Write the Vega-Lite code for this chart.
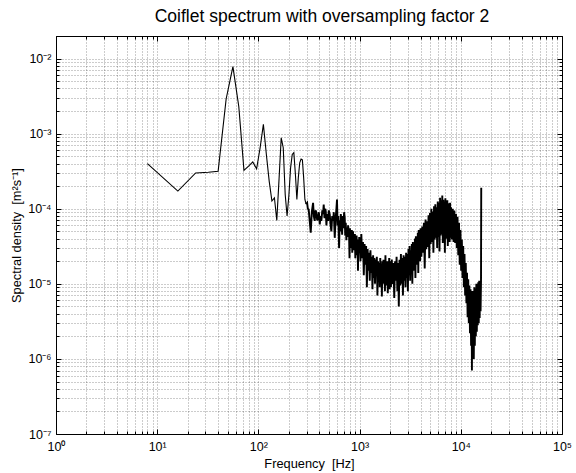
{
 "$schema": "https://vega.github.io/schema/vega-lite/v6.json",
 "width": 506,
 "height": 398,
 "autosize": {"type": "none"},
 "padding": {"left": 56, "top": 36, "right": 14, "bottom": 39},
 "background": "#ffffff",
 "title": {"text": "Coiflet spectrum with oversampling factor 2", "fontSize": 17.5, "fontWeight": "normal", "font": "Liberation Sans", "color": "#000", "anchor": "middle", "frame": "group", "dx": 13, "offset": -9, "baseline": "alphabetic"},
 "config": {
  "view": {"stroke": "#000", "strokeWidth": 1},
  "font": "Liberation Sans",
  "axis": {"labelFont": "Liberation Sans", "titleFont": "Liberation Sans", "labelFontSize": 12.5, "titleFontSize": 12.8, "titleFontWeight": "normal", "labelColor": "#000", "titleColor": "#000", "tickColor": "#000", "domain": false, "labelOverlap": false, "labelFlush": false}
 },
 "data": {"values": [
  {"f":8,"p":4.0e-4},{"f":16,"p":1.72e-4},{"f":24,"p":3.0e-4},{"f":32,"p":3.07e-4},{"f":40,"p":3.15e-4},{"f":48,"p":2.9e-3},{"f":56,"p":7.8e-3},{"f":64,"p":2.3e-3},{"f":72,"p":3.25e-4},{"f":80,"p":3.7e-4},{"f":88,"p":4.2e-4},{"f":96,"p":3.4e-4},{"f":104,"p":6.5e-4},{"f":112,"p":1.33e-3},{"f":120,"p":5.2e-4},{"f":128,"p":2.3e-4},{"f":136,"p":1.27e-4},{"f":144,"p":1.4e-4},{"f":152,"p":7.0e-5},{"f":160,"p":2.5e-4},{"f":168,"p":8.8e-4},{"f":176,"p":6.5e-4},{"f":184,"p":1.55e-4},{"f":192,"p":8e-5},{"f":200,"p":1.5e-4},{"f":208,"p":3.5e-4},{"f":216,"p":5.3e-4},{"f":224,"p":5.6e-4},{"f":232,"p":2.9e-4},{"f":240,"p":1.33e-4},{"f":248,"p":2.6e-4},{"f":256,"p":4.1e-4},{"f":264,"p":4.6e-4},{"f":272,"p":4.5e-4},{"f":280,"p":2.6e-4},{"f":288,"p":1.33e-4},{"f":296,"p":1.15e-4},
  {"f":303,"p":1.2e-4},{"f":308,"p":1.0e-4},{"f":314,"p":9.8e-5},{"f":321,"p":7e-5},{"f":329,"p":4.8e-5},{"f":337,"p":9e-5},{"f":347,"p":1.2e-4},{"f":353,"p":8e-5},{"f":360,"p":6.9e-5},{"f":367,"p":9.5e-5},{"f":374,"p":8.9e-5},{"f":381,"p":7e-5},{"f":389,"p":7.6e-5},{"f":396,"p":9e-5},{"f":404,"p":6.2e-5},{"f":411,"p":8e-5},{"f":419,"p":6.9e-5},{"f":428,"p":9.5e-5},{"f":435,"p":8.5e-5},{"f":442,"p":1.14e-4},{"f":450,"p":7.5e-5},{"f":457,"p":1.0e-4},{"f":463,"p":9.3e-5},{"f":470,"p":6e-5},{"f":478,"p":8.5e-5},{"f":488,"p":6.9e-5},{"f":496,"p":9.5e-5},{"f":507,"p":8.4e-5},{"f":516,"p":6.2e-5},{"f":526,"p":5.0e-5},{"f":536,"p":8e-5},{"f":547,"p":6.9e-5},{"f":556,"p":9e-5},{"f":568,"p":4.1e-5},{"f":580,"p":7.5e-5},{"f":590,"p":1.0e-4},{"f":598,"p":1.33e-4},{"f":606,"p":6e-5},{"f":615,"p":8e-5},{"f":627,"p":3.0e-5},{"f":636,"p":7e-5},{"f":644,"p":5e-5},{"f":652,"p":8.5e-5},{"f":661,"p":6.9e-5},{"f":672,"p":4.5e-5},{"f":682,"p":8e-5},{"f":692,"p":5.5e-5},{"f":703,"p":9e-5},{"f":713,"p":7.6e-5},{"f":721,"p":4.4e-5},{"f":730,"p":6.5e-5},{"f":740,"p":3.8e-5},{"f":752,"p":5.6e-5},{"f":760,"p":4.2e-5},{"f":770,"p":6e-5},{"f":787,"p":4.5e-5},{"f":795,"p":2.2e-5},{"f":803,"p":5.5e-5},{"f":812,"p":3.5e-5},{"f":821,"p":4.8e-5},{"f":830,"p":3.0e-5},{"f":838,"p":5.2e-5},{"f":846,"p":2.6e-5},{"f":853,"p":4.8e-5},{"f":861,"p":5.0e-5},{"f":870,"p":2.8e-5},{"f":879,"p":4.5e-5},{"f":889,"p":3.2e-5},{"f":898,"p":4.6e-5},{"f":907,"p":2.2e-5},{"f":915,"p":4.1e-5},{"f":925,"p":3.4e-5},{"f":934,"p":4.4e-5},{"f":944,"p":2.4e-5},{"f":954,"p":3.8e-5},{"f":964,"p":1.5e-5},{"f":972,"p":3.9e-5},{"f":982,"p":2.6e-5},{"f":991,"p":4.2e-5},{"f":1002,"p":3.7e-5},
  {"f":1020,"p":2.0e-5},{"f":1040,"p":4.6e-5},{"f":1060,"p":2.2e-5},{"f":1080,"p":3.6e-5},{"f":1100,"p":1.3e-5},{"f":1120,"p":3.4e-5},{"f":1140,"p":1.8e-5},{"f":1160,"p":3.2e-5},{"f":1180,"p":9e-6},{"f":1200,"p":2.9e-5},{"f":1220,"p":1.5e-5},{"f":1240,"p":2.6e-5},{"f":1260,"p":1.1e-5},{"f":1280,"p":2.8e-5},{"f":1300,"p":1.4e-5},{"f":1320,"p":2.3e-5},{"f":1340,"p":8.5e-6},{"f":1360,"p":2.4e-5},{"f":1380,"p":1.2e-5},{"f":1400,"p":2.2e-5},{"f":1420,"p":1.0e-5},{"f":1440,"p":2.1e-5},{"f":1460,"p":1.3e-5},{"f":1480,"p":2.3e-5},{"f":1500,"p":7e-6},{"f":1520,"p":2.0e-5},{"f":1540,"p":1.1e-5},{"f":1560,"p":1.9e-5},{"f":1580,"p":9e-6},{"f":1600,"p":2.2e-5},{"f":1620,"p":1.2e-5},{"f":1640,"p":1.8e-5},{"f":1660,"p":6.8e-6},{"f":1680,"p":2.0e-5},{"f":1700,"p":1.0e-5},{"f":1720,"p":2.1e-5},{"f":1740,"p":1.1e-5},{"f":1760,"p":1.9e-5},{"f":1780,"p":8e-6},{"f":1800,"p":2.4e-5},{"f":1820,"p":1.2e-5},{"f":1840,"p":1.8e-5},{"f":1860,"p":9.5e-6},{"f":1880,"p":2.0e-5},{"f":1900,"p":7.5e-6},{"f":1920,"p":1.9e-5},{"f":1940,"p":1.1e-5},{"f":1960,"p":2.2e-5},{"f":1980,"p":8.5e-6},{"f":2000,"p":2.0e-5},
  {"f":2040,"p":9e-6},{"f":2080,"p":2.1e-5},{"f":2120,"p":1.0e-5},{"f":2160,"p":1.9e-5},{"f":2200,"p":6.5e-6},{"f":2240,"p":2.0e-5},{"f":2280,"p":1.1e-5},{"f":2320,"p":2.3e-5},{"f":2360,"p":8e-6},{"f":2400,"p":1.9e-5},{"f":2440,"p":5e-6},{"f":2480,"p":2.1e-5},{"f":2520,"p":9.5e-6},{"f":2560,"p":2.5e-5},{"f":2600,"p":1.0e-5},{"f":2640,"p":2.2e-5},{"f":2680,"p":7e-6},{"f":2720,"p":2.4e-5},{"f":2760,"p":1.1e-5},{"f":2800,"p":2.3e-5},{"f":2840,"p":9e-6},{"f":2880,"p":2.6e-5},{"f":2920,"p":1.2e-5},{"f":2960,"p":2.5e-5},{"f":3000,"p":8e-6},{"f":3040,"p":2.9e-5},{"f":3080,"p":1.3e-5},{"f":3120,"p":3.2e-5},{"f":3160,"p":1.1e-5},{"f":3200,"p":2.8e-5},{"f":3240,"p":1.4e-5},{"f":3280,"p":3.4e-5},{"f":3320,"p":1.0e-5},{"f":3360,"p":3.6e-5},{"f":3400,"p":1.5e-5},{"f":3440,"p":3.3e-5},{"f":3480,"p":1.7e-5},{"f":3520,"p":4.0e-5},{"f":3560,"p":1.2e-5},{"f":3600,"p":4.3e-5},{"f":3640,"p":1.8e-5},{"f":3680,"p":4.1e-5},{"f":3720,"p":1.9e-5},{"f":3760,"p":4.8e-5},{"f":3800,"p":1.4e-5},{"f":3840,"p":5.2e-5},{"f":3880,"p":2.1e-5},{"f":3920,"p":4.6e-5},{"f":3960,"p":2.0e-5},{"f":4000,"p":5.5e-5},
  {"f":4080,"p":2.3e-5},{"f":4160,"p":5.8e-5},{"f":4240,"p":2.6e-5},{"f":4320,"p":6.5e-5},{"f":4400,"p":1.6e-5},{"f":4480,"p":7.2e-5},{"f":4560,"p":2.9e-5},{"f":4640,"p":6.8e-5},{"f":4720,"p":3.1e-5},{"f":4800,"p":8.2e-5},{"f":4880,"p":2.2e-5},{"f":4960,"p":8.8e-5},{"f":5040,"p":3.4e-5},{"f":5120,"p":1.0e-4},{"f":5200,"p":3.6e-5},{"f":5280,"p":9.2e-5},{"f":5360,"p":2.6e-5},{"f":5440,"p":1.08e-4},{"f":5520,"p":3.9e-5},{"f":5600,"p":1.15e-4},{"f":5680,"p":4.1e-5},{"f":5760,"p":1.05e-4},{"f":5840,"p":3.0e-5},{"f":5920,"p":1.25e-4},{"f":6000,"p":4.2e-5},{"f":6080,"p":1.2e-4},{"f":6160,"p":2.7e-5},{"f":6240,"p":1.4e-4},{"f":6320,"p":4.4e-5},{"f":6400,"p":1.3e-4},{"f":6480,"p":4.6e-5},{"f":6560,"p":1.5e-4},{"f":6640,"p":3.5e-5},{"f":6720,"p":1.32e-4},{"f":6800,"p":4.5e-5},{"f":6880,"p":1.25e-4},{"f":6960,"p":2.6e-5},{"f":7040,"p":1.38e-4},{"f":7120,"p":4.4e-5},{"f":7200,"p":1.22e-4},{"f":7280,"p":4.0e-5},{"f":7360,"p":1.3e-4},{"f":7440,"p":3.2e-5},{"f":7520,"p":1.18e-4},{"f":7600,"p":4.3e-5},{"f":7680,"p":1.12e-4},{"f":7760,"p":3.6e-5},{"f":7840,"p":1.2e-4},{"f":7920,"p":4.1e-5},{"f":8000,"p":1.05e-4},
  {"f":8160,"p":3.9e-5},{"f":8320,"p":1.0e-4},{"f":8480,"p":3.6e-5},{"f":8640,"p":9.5e-5},{"f":8800,"p":3.5e-5},{"f":8960,"p":8.5e-5},{"f":9120,"p":3.0e-5},{"f":9280,"p":7.8e-5},{"f":9440,"p":2.4e-5},{"f":9600,"p":6.5e-5},{"f":9760,"p":1.8e-5},{"f":9920,"p":5.2e-5},{"f":10080,"p":1.5e-5},{"f":10240,"p":3.9e-5},{"f":10400,"p":1.2e-5},{"f":10560,"p":3.2e-5},{"f":10720,"p":9e-6},{"f":10880,"p":2.5e-5},{"f":11040,"p":7e-6},{"f":11200,"p":1.9e-5},{"f":11360,"p":5.5e-6},{"f":11520,"p":1.4e-5},{"f":11680,"p":3.6e-6},{"f":11840,"p":1.15e-5},{"f":12000,"p":3e-6},{"f":12160,"p":9.5e-6},{"f":12320,"p":2.2e-6},{"f":12480,"p":8.5e-6},{"f":12640,"p":1.5e-6},{"f":12800,"p":8e-6},{"f":12880,"p":7e-7},{"f":12960,"p":7.5e-6},{"f":13120,"p":1.2e-6},{"f":13280,"p":8e-6},{"f":13440,"p":1.0e-6},{"f":13600,"p":9e-6},{"f":13760,"p":1.5e-6},{"f":13920,"p":8.5e-6},{"f":14080,"p":2.0e-6},{"f":14240,"p":1.0e-5},{"f":14400,"p":2.3e-6},{"f":14560,"p":9.5e-6},{"f":14720,"p":2.8e-6},{"f":14880,"p":1.05e-5},{"f":15040,"p":3.0e-6},{"f":15200,"p":1.1e-5},{"f":15360,"p":3.5e-6},{"f":15520,"p":1.0e-5},{"f":15680,"p":4.3e-6},{"f":15840,"p":1.1e-5},{"f":15920,"p":1.9e-4}
 ]},
 "layer": [
  {
   "transform": [{"filter": "datum.f <= 300"}],
   "mark": {"type": "line", "color": "#000", "strokeWidth": 1.1, "clip": true},
   "encoding": {
    "x": {"field": "f", "type": "quantitative", "scale": {"type": "log", "domain": [1, 100000], "nice": false},
     "axis": {"orient": "bottom", "title": "Frequency\u00a0 [Hz]", "titlePadding": 3,
      "values": [1,2,3,4,5,6,7,8,9,10,20,30,40,50,60,70,80,90,100,200,300,400,500,600,700,800,900,1000,2000,3000,4000,5000,6000,7000,8000,9000,10000,20000,30000,40000,50000,60000,70000,80000,90000,100000],
      "labelExpr": "abs(log(datum.value)/LN10 - round(log(datum.value)/LN10)) < 0.001 ? '10' + substring('⁰¹²³⁴⁵', round(log(datum.value)/LN10), round(log(datum.value)/LN10) + 1) : ''",
      "grid": true, "gridColor": "#000", "gridDash": [1, 2], "gridOpacity": 0.5, "gridWidth": 0.8,
      "tickSize": {"condition": {"test": "abs(log(datum.value)/LN10 - round(log(datum.value)/LN10)) < 0.001", "value": -5}, "value": -3},
      "labelPadding": 11}},
    "y": {"field": "p", "type": "quantitative", "scale": {"type": "log", "domain": [1e-7, 0.02], "nice": false},
     "axis": {"orient": "left", "title": "Spectral density\u00a0 [m²s⁻¹]", "titlePadding": 4,
      "values": [1e-7,2e-7,3e-7,4e-7,5e-7,6e-7,7e-7,8e-7,9e-7,1e-6,2e-6,3e-6,4e-6,5e-6,6e-6,7e-6,8e-6,9e-6,1e-5,2e-5,3e-5,4e-5,5e-5,6e-5,7e-5,8e-5,9e-5,1e-4,2e-4,3e-4,4e-4,5e-4,6e-4,7e-4,8e-4,9e-4,1e-3,2e-3,3e-3,4e-3,5e-3,6e-3,7e-3,8e-3,9e-3,1e-2,2e-2],
      "labelExpr": "abs(log(datum.value)/LN10 - round(log(datum.value)/LN10)) < 0.001 ? '10⁻' + substring('⁰¹²³⁴⁵⁶⁷', -round(log(datum.value)/LN10), -round(log(datum.value)/LN10) + 1) : ''",
      "grid": true, "gridColor": "#000", "gridDash": [1, 2], "gridOpacity": 0.5, "gridWidth": 0.8,
      "tickSize": {"condition": {"test": "abs(log(datum.value)/LN10 - round(log(datum.value)/LN10)) < 0.001", "value": -5}, "value": -3},
      "labelPadding": 10}}
   }
  },
  {
   "transform": [{"filter": "datum.f >= 296"}],
   "mark": {"type": "line", "color": "#000", "strokeWidth": 1.9, "clip": true},
   "encoding": {
    "x": {"field": "f", "type": "quantitative",
     "axis": {"orient": "top", "title": null, "labels": false, "grid": false,
      "values": [1,2,3,4,5,6,7,8,9,10,20,30,40,50,60,70,80,90,100,200,300,400,500,600,700,800,900,1000,2000,3000,4000,5000,6000,7000,8000,9000,10000,20000,30000,40000,50000,60000,70000,80000,90000,100000],
      "tickSize": {"condition": {"test": "abs(log(datum.value)/LN10 - round(log(datum.value)/LN10)) < 0.001", "value": -5}, "value": -3}}},
    "y": {"field": "p", "type": "quantitative",
     "axis": {"orient": "right", "title": null, "labels": false, "grid": false,
      "values": [1e-7,2e-7,3e-7,4e-7,5e-7,6e-7,7e-7,8e-7,9e-7,1e-6,2e-6,3e-6,4e-6,5e-6,6e-6,7e-6,8e-6,9e-6,1e-5,2e-5,3e-5,4e-5,5e-5,6e-5,7e-5,8e-5,9e-5,1e-4,2e-4,3e-4,4e-4,5e-4,6e-4,7e-4,8e-4,9e-4,1e-3,2e-3,3e-3,4e-3,5e-3,6e-3,7e-3,8e-3,9e-3,1e-2,2e-2],
      "tickSize": {"condition": {"test": "abs(log(datum.value)/LN10 - round(log(datum.value)/LN10)) < 0.001", "value": -5}, "value": -3}}}
   }
  }
 ],
 "resolve": {"axis": {"x": "independent", "y": "independent"}}
}
